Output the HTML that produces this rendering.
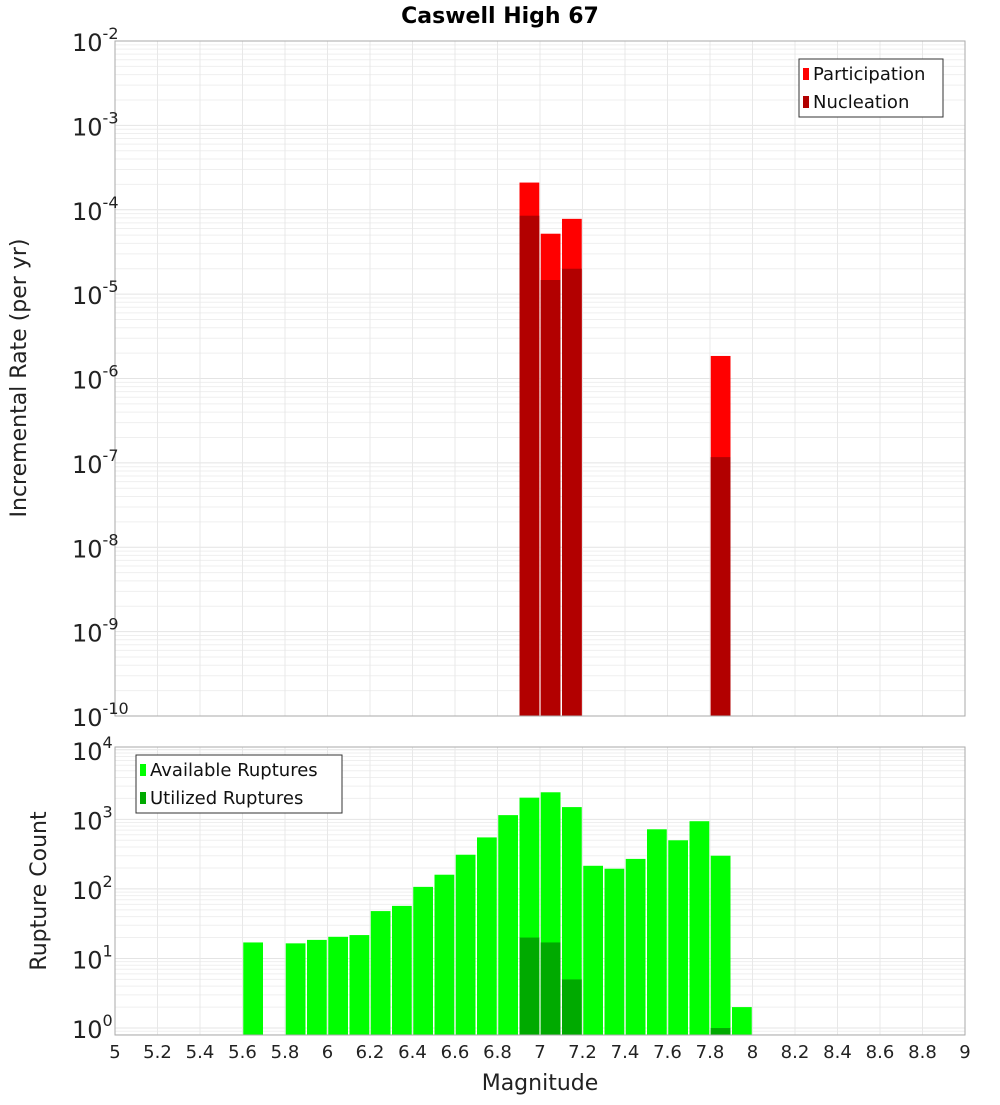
<!DOCTYPE html>
<html><head><meta charset="utf-8"><style>
body{margin:0;background:#fff;font-family:"Liberation Sans","DejaVu Sans",sans-serif}
svg text{font-family:"DejaVu Sans","Liberation Sans",sans-serif}
</style></head><body>
<svg id="c" width="1000" height="1100" xmlns="http://www.w3.org/2000/svg"></svg>
<script>
const topMags=[6.95,7.05,7.15,7.85];
const participation=[2.1e-4,5.2e-5,7.8e-5,1.85e-6];
const nucleation=[8.5e-5,1.47e-5,2.0e-5,1.17e-7];
const botMags=[5.65,5.85,5.95,6.05,6.15,6.25,6.35,6.45,6.55,6.65,6.75,6.85,6.95,7.05,7.15,7.25,7.35,7.45,7.55,7.65,7.75,7.85,7.95];
const available=[17,16.5,18.5,20.5,21.7,48,57,107,160,310,550,1150,2050,2450,1500,215,195,270,720,500,940,300,2];
const utilMags=[6.95,7.05,7.15,7.85];
const utilized=[20,17,5,1];
const xTicks=[5,5.2,5.4,5.6,5.8,6,6.2,6.4,6.6,6.8,7,7.2,7.4,7.6,7.8,8,8.2,8.4,8.6,8.8,9];
const topExp=[-2,-3,-4,-5,-6,-7,-8,-9,-10];
const botExp=[4,3,2,1,0];

const svg=document.getElementById('c');
const NS='http://www.w3.org/2000/svg';
function el(t,a,p){const e=document.createElementNS(NS,t);for(const k in a)e.setAttribute(k,a[k]);(p||svg).appendChild(e);return e;}
const L=115,R=965;
const x=m=>L+(m-5)/4*(R-L);
const T1=41,B1=716,yT=v=>T1+(-2-Math.log10(v))/8*(B1-T1);
const T2=747,B2=1035,lmin=-0.1,lmax=4.04,yB=v=>B2-(Math.log10(v)-lmin)/(lmax-lmin)*(B2-T2);

function panel(T,B,yf,emin,emax,name){
  const g=el('g',{},svg);
  
  
  for(let e=emin;e<emax+1;e++){for(let k=1;k<10;k++){const v=k*Math.pow(10,e);const y=yf(v);if(y<T-0.5||y>B+0.5)continue;
    el('line',{x1:L,x2:R,y1:y,y2:y,stroke:k==1?'#e4e4e4':'#efefef','stroke-width':1},g);}}
  xTicks.forEach(m=>el('line',{x1:x(m),x2:x(m),y1:T,y2:B,stroke:'#e8e8e8'},g));
  return g;
}
const g1=panel(T1,B1,yT,-10,-2,'rate-plot');
const g2=panel(T2,B2,yB,-1,4,'count-plot');
const bw=(x(5.1)-x(5))-1.5;
topMags.forEach((m,i)=>{
  let r=el('rect',{x:x(m)-bw/2,y:yT(participation[i]),width:bw,height:B1-yT(participation[i]),fill:'#ff0000'},g1);
  
  
  r=el('rect',{x:x(m)-bw/2,y:yT(nucleation[i]),width:bw,height:B1-yT(nucleation[i]),fill:'#b20000'},g1);
  
  
});
botMags.forEach((m,i)=>{
  const r=el('rect',{x:x(m)-bw/2,y:yB(available[i]),width:bw,height:B2-yB(available[i]),fill:'#00ff00'},g2);
  
  
});
utilMags.forEach((m,i)=>{
  const r=el('rect',{x:x(m)-bw/2,y:yB(utilized[i]),width:bw,height:B2-yB(utilized[i]),fill:'#00aa00'},g2);
  
  
});
el('rect',{x:L,y:T1,width:R-L,height:B1-T1,fill:'none',stroke:'#aaa'});
el('rect',{x:L,y:T2,width:R-L,height:B2-T2,fill:'none',stroke:'#aaa'});
function ylab(e,y){
  const t=el('text',{x:104,y:y+10,'text-anchor':'end','font-size':24,fill:'#222'});
  
  
  const a=el('tspan',{},t);a.textContent='10';
  const b=el('tspan',{dy:-12,'font-size':16},t);b.textContent=String(e);
  t.setAttribute('x',72);t.setAttribute('text-anchor','start');
}
topExp.forEach(e=>ylab(e,yT(Math.pow(10,e))));
botExp.forEach(e=>ylab(e,yB(Math.pow(10,e))));
xTicks.forEach(m=>{const t=el('text',{x:x(m),y:1058,'text-anchor':'middle','font-size':18,fill:'#222'});
  
  
  t.textContent=String(m);});
let t=el('text',{x:500,y:23,'text-anchor':'middle','font-size':22,'font-weight':'bold',fill:'#000'});


t.textContent='Caswell High 67';
t=el('text',{x:540,y:1090,'text-anchor':'middle','font-size':22,fill:'#222'});


t.textContent='Magnitude';
t=el('text',{x:26,y:378,'text-anchor':'middle','font-size':22,fill:'#222',transform:'rotate(-90 26 378)'});


t.textContent='Incremental Rate (per yr)';
t=el('text',{x:46,y:891,'text-anchor':'middle','font-size':22,fill:'#222',transform:'rotate(-90 46 891)'});


t.textContent='Rupture Count';
function legend(x0,y0,w,h,items,name){
  const g=el('g',{});
  
  
  el('rect',{x:x0,y:y0,width:w,height:h,fill:'#fff',stroke:'#333'},g);
  items.forEach((it,i)=>{
    el('rect',{x:x0+4,y:y0+9+i*28,width:6,height:12,fill:it[1]},g);
    const tt=el('text',{x:x0+14,y:y0+21+i*28,'font-size':18,fill:'#111'},g);
    tt.textContent=it[0];
  });
}
legend(799,59,144,58,[['Participation','#ff0000'],['Nucleation','#b20000']],'rate-legend');
legend(136,755,206,58,[['Available Ruptures','#00ff00'],['Utilized Ruptures','#00aa00']],'count-legend');
</script>
</body></html>
